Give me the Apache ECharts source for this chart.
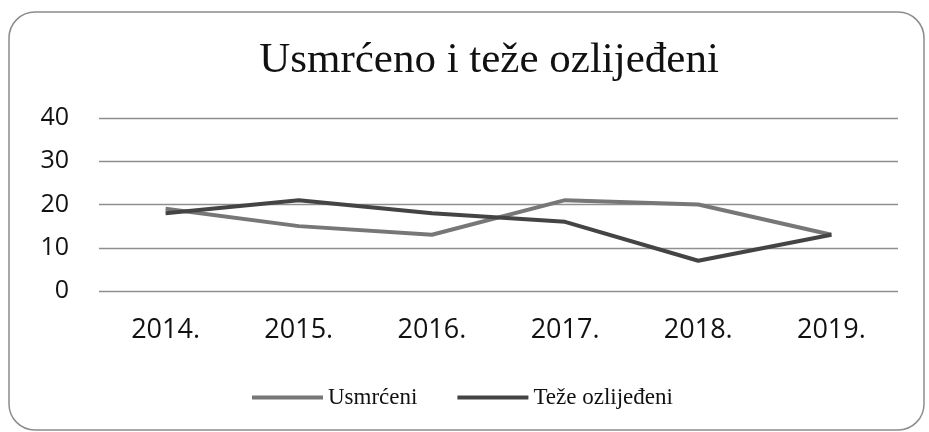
<!DOCTYPE html>
<html>
<head>
<meta charset="utf-8">
<script src="https://cdn.jsdelivr.net/npm/echarts@6/dist/echarts.min.js"></script>
<style>
  html, body { margin: 0; padding: 0; background: #fff; }
  #chart { width: 929px; height: 432px; }
</style>
</head>
<body>
<div id="chart"></div>
<script>
var years = ["2014.", "2015.", "2016.", "2017.", "2018.", "2019."];
var usmrceni = [19, 15, 13, 21, 20, 13];
var tezeOzlijedeni = [18, 21, 18, 16, 7, 13];

var chart = echarts.init(document.getElementById("chart"));

chart.setOption({
    animation: false,
    backgroundColor: "#fff",
    graphic: [{
        type: "rect",
        shape: { x: 9, y: 12, width: 915, height: 418, r: 26 },
        style: { fill: "none", stroke: "#8c8c8c", lineWidth: 1.5 },
        z: -1
    }],
    title: {
        text: "Usmrćeno i teže ozlijeđeni",
        left: 484,
        textAlign: "center",
        top: 34,
        textStyle: {
            fontFamily: "Liberation Serif",
            fontWeight: "normal",
            fontSize: 43,
            color: "#111"
        }
    },
    legend: {
        top: 381,
        left: 247,
        icon: "rect",
        itemWidth: 71,
        itemHeight: 4,
        itemGap: 40,
        textStyle: {
            fontFamily: "Liberation Serif",
            fontSize: 23,
            color: "#111"
        },
        data: ["Usmrćeni", "Teže ozlijeđeni"]
    },
    grid: { left: 99, right: 31, top: 118, bottom: 141 },
    xAxis: {
        type: "category",
        data: years,
        boundaryGap: true,
        axisLine: { show: false },
        axisTick: { show: false },
        axisLabel: {
            margin: 26,
            fontFamily: "Open Sans",
            fontSize: 27,
            color: "#111"
        }
    },
    yAxis: {
        type: "value",
        min: 0,
        max: 40,
        interval: 10,
        axisLine: { show: false },
        axisTick: { show: false },
        splitLine: { lineStyle: { color: "#8f8f8f", width: 1.3 } },
        axisLabel: {
            margin: 30,
            fontFamily: "Open Sans",
            fontSize: 25,
            color: "#111"
        }
    },
    series: [
        {
            name: "Usmrćeni",
            type: "line",
            data: usmrceni,
            symbol: "none",
            lineStyle: { color: "#777", width: 4 },
            itemStyle: { color: "#777" }
        },
        {
            name: "Teže ozlijeđeni",
            type: "line",
            data: tezeOzlijedeni,
            symbol: "none",
            lineStyle: { color: "#444", width: 4 },
            itemStyle: { color: "#444" }
        }
    ]
});
</script>
</body>
</html>
